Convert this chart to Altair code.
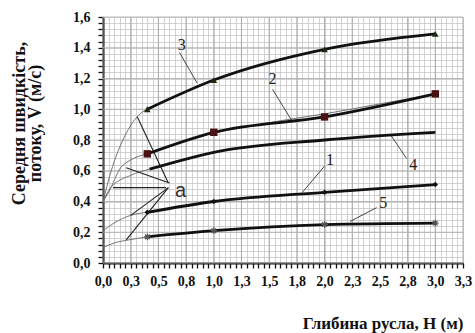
import altair as alt
import pandas as pd

# ---------------- data ----------------
H_pts = [0.4, 1.0, 2.0, 3.0]
V_curve3 = [1.00, 1.19, 1.39, 1.49]
V_curve2 = [0.71, 0.85, 0.95, 1.10]
V_curve1 = [0.33, 0.40, 0.46, 0.51]
V_curve5 = [0.17, 0.21, 0.25, 0.26]
H_curve4 = [0.42, 1.0, 2.0, 3.0]
V_curve4 = [0.61, 0.72, 0.80, 0.85]

# thin extrapolation curves towards H = 0
H_ext3 = [0.0, 0.07, 0.2, 0.32, 0.4]
V_ext3 = [0.40, 0.59, 0.83, 0.96, 1.00]
H_ext2 = [0.0, 0.05, 0.16, 0.25, 0.4]
V_ext2 = [0.40, 0.46, 0.62, 0.67, 0.71]
H_ext4 = [0.0, 0.07, 0.25, 0.42]
V_ext4 = [0.40, 0.49, 0.57, 0.61]
H_ext1 = [0.0, 0.1, 0.25, 0.4]
V_ext1 = [0.21, 0.26, 0.31, 0.33]
H_ext5 = [0.0, 0.1, 0.23, 0.4]
V_ext5 = [0.10, 0.13, 0.15, 0.17]
# thin fitted line along curve 2
H_fit2 = [1.0, 1.3, 1.6, 2.0, 2.5, 3.0]
V_fit2 = [0.85, 0.885, 0.925, 0.97, 1.035, 1.10]

# pointer lines of label "a"
ptr_x1 = [0.31, 0.21, 0.09, 0.25, 0.21]
ptr_y1 = [0.95, 0.62, 0.49, 0.31, 0.15]
ptr_x2 = [0.59, 0.60, 0.57, 0.59, 0.59]
ptr_y2 = [0.52, 0.52, 0.49, 0.49, 0.49]
a_label = ["a"]
a_x = [0.65]
a_y = [0.47]

# curve number labels and their leader lines
lab_text = ["3", "2", "4", "1", "5"]
lab_x = [0.71, 1.53, 2.80, 2.05, 2.53]
lab_y = [1.42, 1.20, 0.64, 0.67, 0.39]
lead_x1 = [0.69, 1.53, 2.74, 2.00, 2.47]
lead_y1 = [1.37, 1.13, 0.68, 0.63, 0.36]
lead_x2 = [0.85, 1.71, 2.59, 1.80, 2.23]
lead_y2 = [1.17, 0.92, 0.84, 0.46, 0.27]

# axes
x_tick_values = [0.0, 0.25, 0.5, 0.75, 1.0, 1.25, 1.5, 1.75, 2.0, 2.25, 2.5, 2.75, 3.0, 3.25]
x_tick_labels = ["0,0", "0,3", "0,5", "0,8", "1,0", "1,3", "1,5", "1,8", "2,0", "2,3", "2,5", "2,8", "3,0", "3,3"]
y_tick_values = [0.0, 0.2, 0.4, 0.6, 0.8, 1.0, 1.2, 1.4, 1.6]
y_tick_labels = ["0,0", "0,2", "0,4", "0,6", "0,8", "1,0", "1,2", "1,4", "1,6"]
x_minor_step = 0.05
y_minor_step = 0.04
x_minor = [round(i * x_minor_step, 2) for i in range(66)]
y_minor = [round(i * y_minor_step, 2) for i in range(41)]

x_title = "Глибина русла, Н (м)"
y_title = ["Середня швидкість,", "потоку, V (м/с)"]

# ---------------- chart ----------------
SERIF = "Liberation Serif"

def lab_expr(vals, labs):
    arr_l = "[" + ",".join("'%s'" % s for s in labs) + "]"
    arr_v = "[" + ",".join(repr(v) for v in vals) + "]"
    return ("indexof(%s, datum.value) >= 0 ? %s[indexof(%s, datum.value)] : ''"
            % (arr_v, arr_l, arr_v))

xs = alt.Scale(domain=[0, 3.25], nice=False, zero=False)
ys = alt.Scale(domain=[0, 1.6], nice=False, zero=False)

xaxis = alt.Axis(values=x_minor, labelExpr=lab_expr(x_tick_values, x_tick_labels),
                 grid=True, gridColor="#c6c6c6", gridWidth=0.8,
                 ticks=True, tickSize=5, tickColor="#111", tickWidth=1.3,
                 domainColor="#111", domainWidth=2,
                 labelFont=SERIF, labelFontSize=14, labelFontWeight="bold", labelColor="#111",
                 labelPadding=6, labelFlush=False, labelOverlap=False,
                 title=x_title, titleFont=SERIF, titleFontSize=17, titleFontWeight="bold",
                 titleColor="#111", titleX=360, titleY=60, titleAlign="right",
                 titleBaseline="middle")
yaxis = alt.Axis(values=y_minor, labelExpr=lab_expr(y_tick_values, y_tick_labels),
                 grid=True, gridColor="#c6c6c6", gridWidth=0.8,
                 ticks=True, tickSize=5, tickColor="#111", tickWidth=1.3,
                 domainColor="#111", domainWidth=2,
                 labelFont=SERIF, labelFontSize=14, labelFontWeight="bold", labelColor="#111",
                 labelPadding=8, labelFlush=False, labelOverlap=False,
                 title=y_title, titleFont=SERIF, titleFontSize=18, titleFontWeight="bold",
                 titleColor="#111", titleX=-93, titleY=106, titleAlign="center",
                 titleBaseline="top", titleAngle=270, titleLineHeight=16)

def X(f):
    return alt.X(f, type="quantitative", scale=xs, axis=xaxis)

def Y(f):
    return alt.Y(f, type="quantitative", scale=ys, axis=yaxis)

df_xmajor = pd.DataFrame({"mx": x_tick_values})
df_ymajor = pd.DataFrame({"my": y_tick_values})

grid_xM = alt.Chart(df_xmajor).mark_rule(color="#a4a4a4", strokeWidth=0.9).encode(x=X("mx"))
grid_yM = alt.Chart(df_ymajor).mark_rule(color="#b0b0b0", strokeWidth=0.9).encode(y=Y("my"))

def series_df(name, hs, vs):
    return pd.DataFrame({"H": hs, "V": vs, "s": name})

thick = pd.concat([
    series_df("3", H_pts, V_curve3),
    series_df("2", H_pts, V_curve2),
    series_df("4", H_curve4, V_curve4),
    series_df("1", H_pts, V_curve1),
    series_df("5", H_pts, V_curve5),
])
thin = pd.concat([
    series_df("e3", H_ext3, V_ext3),
    series_df("e2", H_ext2, V_ext2),
    series_df("e4", H_ext4, V_ext4),
    series_df("e1", H_ext1, V_ext1),
    series_df("e5", H_ext5, V_ext5),
    series_df("f2", H_fit2, V_fit2),
])

thin_lines = alt.Chart(thin).mark_line(color="#666", strokeWidth=0.9, interpolate="monotone").encode(
    x=X("H"), y=Y("V"), detail="s:N")
thick_lines = alt.Chart(thick).mark_line(color="#111", strokeWidth=2.8, interpolate="monotone").encode(
    x=X("H"), y=Y("V"), detail="s:N")

ptr = pd.DataFrame({"x1": ptr_x1, "y1": ptr_y1, "x2": ptr_x2, "y2": ptr_y2})
ptr_lines = alt.Chart(ptr).mark_rule(color="#222", strokeWidth=1.1).encode(
    x=X("x1"), y=Y("y1"), x2="x2", y2="y2")

lead = pd.DataFrame({"x1": lead_x1, "y1": lead_y1, "x2": lead_x2, "y2": lead_y2})
lead_lines = alt.Chart(lead).mark_rule(color="#333", strokeWidth=0.9).encode(
    x=X("x1"), y=Y("y1"), x2="x2", y2="y2")

ASTER = "M-1,0L1,0M0,-1L0,1M-0.7,-0.7L0.7,0.7M-0.7,0.7L0.7,-0.7"
m3 = alt.Chart(series_df("3", H_pts, V_curve3)).mark_point(
    shape="triangle-up", filled=True, size=45, color="#1c2a12", opacity=1).encode(x=X("H"), y=Y("V"))
m2 = alt.Chart(series_df("2", H_pts, V_curve2)).mark_point(
    shape="square", filled=True, size=55, color="#4a1212", opacity=1).encode(x=X("H"), y=Y("V"))
m1 = alt.Chart(series_df("1", H_pts, V_curve1)).mark_point(
    shape="diamond", filled=True, size=30, color="#111", opacity=1).encode(x=X("H"), y=Y("V"))
m5 = alt.Chart(series_df("5", H_pts, V_curve5)).mark_point(
    shape=ASTER, filled=False, size=45, color="#555", strokeWidth=1.2, opacity=1).encode(x=X("H"), y=Y("V"))

labs = pd.DataFrame({"t": lab_text, "x": lab_x, "y": lab_y})
lab_marks = alt.Chart(labs).mark_text(font=SERIF, fontSize=16, color="#222").encode(
    x=X("x"), y=Y("y"), text="t:N")

adf = pd.DataFrame({"t": a_label, "x": a_x, "y": a_y})
a_mark = alt.Chart(adf).mark_text(font="Liberation Sans", fontSize=20, color="#333",
                                  align="left", baseline="middle").encode(
    x=X("x"), y=Y("y"), text="t:N")

chart = alt.layer(
    grid_xM, grid_yM,
    thin_lines, ptr_lines, lead_lines, thick_lines,
    m3, m2, m1, m5, lab_marks, a_mark,
).properties(
    width=360, height=246,
    autosize=alt.AutoSizeParams(type="none"),
    padding={"left": 103, "top": 17, "right": 12, "bottom": 70},
    background="white",
).configure_view(stroke=None)

chart.save("out.html", embed_options={"renderer": "svg", "actions": False})
